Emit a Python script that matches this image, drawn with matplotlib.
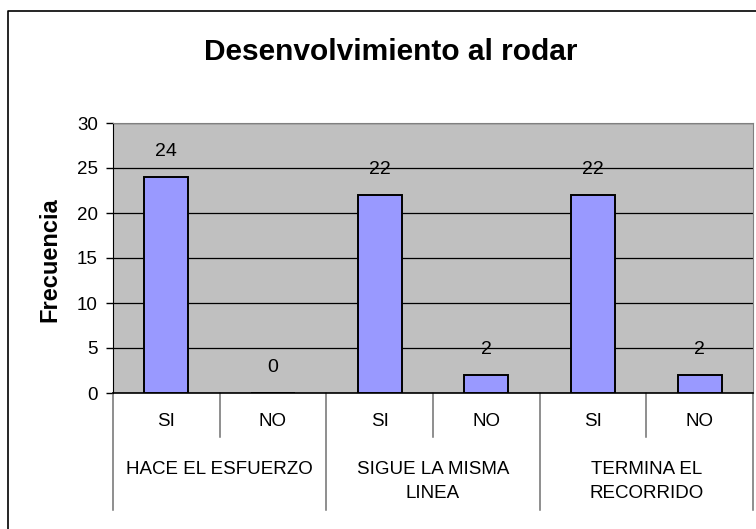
import matplotlib
matplotlib.use("Agg")
import matplotlib.pyplot as plt
from matplotlib.lines import Line2D
import matplotlib.transforms as mtransforms

plt.rcParams["font.family"] = ["Liberation Sans", "DejaVu Sans"]

# data
answers = ["SI", "NO", "SI", "NO", "SI", "NO"]
groups = ["HACE EL ESFUERZO", "SIGUE LA MISMA\nLINEA", "TERMINA EL\nRECORRIDO"]
frecuencia = [24, 0, 22, 2, 22, 2]
y_ticks = [0, 5, 10, 15, 20, 25, 30]

W, H = 756, 529
fig = plt.figure(figsize=(W / 100, H / 100), dpi=100)

# plot area in pixels: x 113..753, y 123..393
ax = fig.add_axes([113 / W, 1 - 393 / H, 640 / W, 270 / H])
ax.set_facecolor("#C0C0C0")

x = list(range(len(frecuencia)))
ax.bar(x, frecuencia, width=0.41, color="#9999FF", edgecolor="black", linewidth=1.4, zorder=3)

for xi, v in zip(x, frecuencia):
    ax.annotate(str(v), (xi, v), xytext=(0, 18), textcoords="offset points",
                ha="center", va="center", fontsize=14)

ax.set_xlim(-0.5, len(frecuencia) - 0.5)
ax.set_ylim(0, 30)
ax.set_yticks(y_ticks)
ax.yaxis.grid(True, color="black", linewidth=0.9)
ax.set_axisbelow(True)
ax.tick_params(axis="y", length=5, width=1, pad=6, labelsize=13.5)
ax.set_xticks([])

for side in ("top", "right"):
    ax.spines[side].set_color("#808080")
ax.spines["left"].set_color("black")
ax.spines["bottom"].set_color("black")
ax.spines["bottom"].set_linewidth(1.2)

# two-level category axis
trans = mtransforms.blended_transform_factory(ax.transData, ax.transAxes)
sep_color = "#707070"
for i in range(len(answers) + 1):
    b = i - 0.5
    outer = (i % 2 == 0)
    y_end = -0.433 if outer else -0.163
    ax.add_line(Line2D([b, b], [0, y_end], transform=trans, color=sep_color,
                       linewidth=1.1, clip_on=False))

for xi, lab in zip(x, answers):
    ax.text(xi, -0.105, lab, transform=trans, ha="center", va="center", fontsize=13.5)

for gi, g in enumerate(groups):
    ax.text(2 * gi + 0.5, -0.252, g, transform=trans, ha="center", va="top",
            fontsize=13.5, linespacing=1.5)

fig.text(391 / W, 1 - 60 / H, "Desenvolvimiento al rodar", ha="center", va="baseline",
         fontsize=21.5, fontweight="bold")
fig.text(50 / W, 1 - 260 / H, "Frecuencia", rotation=90, ha="center", va="center",
         fontsize=17, fontweight="bold")

# chart border (cropped on the right and bottom)
fig.add_artist(Line2D([8 / W, 8 / W, 1.0], [0.0, 1 - 11 / H, 1 - 11 / H],
                      transform=fig.transFigure, color="black", linewidth=1.2))

fig.savefig("out.png", dpi=100)
plt.close(fig)
